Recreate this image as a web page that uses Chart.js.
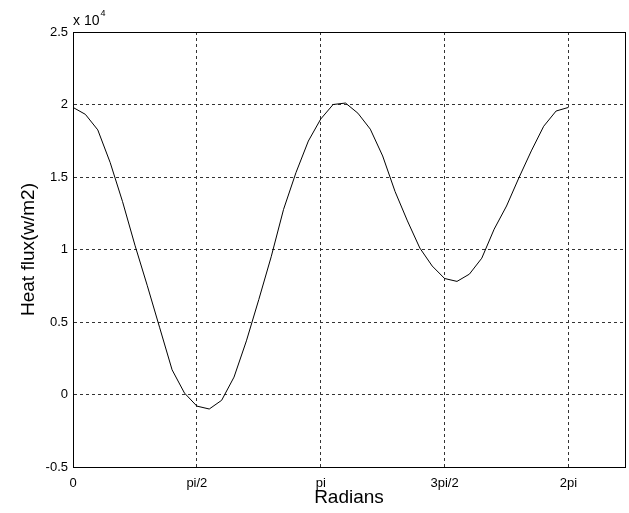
<!DOCTYPE html>
<html>
<head>
<meta charset="utf-8">
<script src="https://cdn.jsdelivr.net/npm/chart.js@4/dist/chart.umd.min.js"></script>
<style>
  body { margin: 0; background: #fff; }
  #wrap { width: 629px; height: 513px; }
</style>
</head>
<body>
<div id="wrap"><canvas id="heatChart" width="629" height="513"></canvas></div>
<script>
// samples every pi/20 from 0 to 2pi
const sampleCount = 41;
const heatFlux = [
  19800, 19320, 18250, 16000, 13300, 10300, 7500, 4600, 1700, 100,
  -800, -1000, -400, 1200, 3700, 6550, 9500, 12770, 15300, 17480,
  19000, 20000, 20100, 19400, 18300, 16450, 14000, 11970, 10100, 8860,
  8000, 7800, 8300, 9400, 11400, 13000, 14950, 16800, 18500, 19550,
  19800
];
const xTickValues = [0, Math.PI / 2, Math.PI, 3 * Math.PI / 2, 2 * Math.PI];
const xTickLabels = ['0', 'pi/2', 'pi', '3pi/2', '2pi'];

const points = heatFlux.map((v, i) => ({ x: i * 2 * Math.PI / (sampleCount - 1), y: v }));

// box around the plot plus the "x 10^4" exponent label
const boxPlugin = {
  id: 'matlabBox',
  afterDraw(chart) {
    const ctx = chart.ctx;
    const a = chart.chartArea;
    ctx.save();
    ctx.strokeStyle = '#000';
    ctx.lineWidth = 1;
    ctx.setLineDash([]);
    ctx.strokeRect(Math.round(a.left) + 0.5, Math.round(a.top) + 0.5,
      Math.round(a.right - a.left), Math.round(a.bottom - a.top));
    ctx.fillStyle = '#000';
    ctx.font = '14px "Liberation Sans", Arial, sans-serif';
    ctx.textBaseline = 'alphabetic';
    ctx.fillText('x 10', a.left, a.top - 7);
    const w = ctx.measureText('x 10').width;
    ctx.font = '9px "Liberation Sans", Arial, sans-serif';
    ctx.fillText('4', a.left + w + 1, a.top - 16);
    ctx.restore();
  }
};

const ctx = document.getElementById('heatChart').getContext('2d');
new Chart(ctx, {
  type: 'line',
  data: {
    datasets: [{
      data: points,
      borderColor: '#000',
      borderWidth: 1,
      pointRadius: 0,
      tension: 0,
      fill: false
    }]
  },
  options: {
    responsive: false,
    animation: false,
    events: [],
    layout: { padding: { top: 32, right: 4, left: 0, bottom: 4 } },
    plugins: {
      legend: { display: false },
      tooltip: { enabled: false }
    },
    scales: {
      x: {
        type: 'linear',
        min: 0,
        max: 7,
        afterBuildTicks: (scale) => { scale.ticks = xTickValues.map(v => ({ value: v })); },
        afterFit: (scale) => { scale.height = 42; },
        ticks: {
          color: '#000',
          font: { family: '"Liberation Sans", Arial, sans-serif', size: 13 },
          padding: 9,
          maxRotation: 0,
          callback: (v, i) => xTickLabels[i]
        },
        grid: { color: '#333', drawTicks: false },
        border: { color: '#000', dash: [3, 3] },
        title: {
          display: true,
          text: 'Radians',
          color: '#000',
          font: { family: '"Liberation Sans", Arial, sans-serif', size: 19 },
          padding: { top: 0, bottom: 0 }
        }
      },
      y: {
        min: -5000,
        max: 25000,
        afterFit: (scale) => { scale.width = 73; },
        ticks: {
          stepSize: 5000,
          color: '#000',
          font: { family: '"Liberation Sans", Arial, sans-serif', size: 13 },
          padding: 5,
          callback: (v) => String(v / 10000)
        },
        grid: { color: '#333', drawTicks: false },
        border: { color: '#000', dash: [3, 3] },
        title: {
          display: true,
          text: 'Heat flux(w/m2)',
          color: '#000',
          font: { family: '"Liberation Sans", Arial, sans-serif', size: 19 },
          padding: { top: 17, bottom: 0 }
        }
      }
    }
  },
  plugins: [boxPlugin]
});
</script>
</body>
</html>
